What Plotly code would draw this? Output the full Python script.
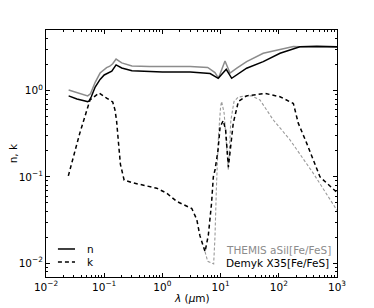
import plotly.graph_objects as go

# ---------------- data (wavelength in micron) ----------------
themis_n_wl = [0.0245, 0.04, 0.047, 0.052, 0.058, 0.07, 0.085, 0.11, 0.125, 0.14, 0.16, 0.2, 0.3,
               0.6, 3.0, 6.0, 8.0, 9.2, 11.9, 14.5, 19, 28, 54, 120, 178, 300, 1000]
themis_n = [1.02, 0.93, 0.89, 0.87, 0.92, 1.25, 1.6, 1.85, 1.92, 2.05, 2.32, 2.1, 1.93,
            1.90, 1.90, 1.86, 1.62, 1.40, 2.21, 1.60, 1.82, 2.17, 2.71, 3.04, 3.25, 3.2, 3.18]

demyk_n_wl = [0.0245, 0.034, 0.047, 0.052, 0.055, 0.06, 0.07, 0.085, 0.10, 0.12, 0.135, 0.16, 0.2,
              0.3, 0.6, 1.0, 3.0, 6.6, 9.1, 12.5, 15.5, 19, 28, 54, 105, 230, 450, 1000]
demyk_n = [0.87, 0.80, 0.76, 0.746, 0.76, 0.85, 1.1, 1.35, 1.52, 1.60, 1.68, 1.99, 1.83,
           1.70, 1.65, 1.64, 1.64, 1.58, 1.39, 1.77, 1.39, 1.52, 1.82, 2.17, 2.71, 3.23, 3.28, 3.23]

demyk_k_wl = [0.0242, 0.038, 0.057, 0.082, 0.11, 0.14, 0.153, 0.163, 0.175, 0.19, 0.22, 0.32, 0.8,
              1.18, 1.76, 3.2, 3.9, 4.4, 5.4, 6.15, 7.0, 7.5, 8.0, 9.0, 9.8, 11.1, 12.2, 13.6,
              16.5, 20.2, 28, 58, 105, 178, 216, 302, 510, 1000]
demyk_k = [0.103, 0.32, 0.78, 0.94, 0.82, 0.74, 0.60, 0.45, 0.26, 0.14, 0.092, 0.085, 0.074,
           0.065, 0.052, 0.043, 0.032, 0.021, 0.0136, 0.021, 0.05, 0.10, 0.12, 0.2, 0.38, 0.45, 0.35, 0.13,
           0.42, 0.75, 0.87, 0.93, 0.85, 0.71, 0.42, 0.245, 0.10, 0.066]

themis_k_wl = [5.4, 6.0, 7.6, 8.0, 8.5, 9.2, 10.0, 10.4, 11.5, 13.6, 15, 17, 20, 27, 34, 47.5,
               80, 155, 392, 1000]
themis_k = [0.0136, 0.0105, 0.0098, 0.02, 0.08, 0.3, 0.65, 0.75, 0.55, 0.12, 0.45, 0.75, 0.84, 0.87,
            0.87, 0.78, 0.46, 0.27, 0.11, 0.041]

x_tick_vals = [0.01, 0.1, 1, 10, 100, 1000]
x_tick_text = ["10<sup>−2</sup>", "10<sup>−1</sup>", "10<sup>0</sup>", "10<sup>1</sup>",
               "10<sup>2</sup>", "10<sup>3</sup>"]
y_tick_vals = [0.01, 0.1, 1]
y_tick_text = ["10<sup>−2</sup>", "10<sup>−1</sup>", "10<sup>0</sup>"]

GRAY = "#8c8c8c"
FONT = "DejaVu Sans"

fig = go.Figure()
fig.add_trace(go.Scatter(x=themis_n_wl, y=themis_n, mode="lines",
                         line=dict(color=GRAY, width=1.5), showlegend=False))
fig.add_trace(go.Scatter(x=themis_k_wl, y=themis_k, mode="lines",
                         line=dict(color="#9a9a9a", width=1.1, dash="3px,2px"), showlegend=False))
fig.add_trace(go.Scatter(x=demyk_n_wl, y=demyk_n, mode="lines",
                         line=dict(color="black", width=1.5), showlegend=False))
fig.add_trace(go.Scatter(x=demyk_k_wl, y=demyk_k, mode="lines",
                         line=dict(color="black", width=1.5, dash="4px,3px"), showlegend=False))

axis_common = dict(showline=True, linecolor="black", linewidth=1, mirror="ticks",
                   ticks="inside", ticklen=4, tickcolor="black", tickwidth=1,
                   showgrid=False, zeroline=False,
                   tickfont=dict(family=FONT, size=10.5, color="black"),
                   minor=dict(ticks="inside", ticklen=2, tickcolor="black", tickwidth=0.8,
                              dtick="D1", showgrid=False))

fig.update_xaxes(type="log", range=[-2, 3], tickmode="array", tickvals=x_tick_vals,
                 ticktext=x_tick_text, **axis_common)
fig.update_yaxes(type="log", range=[-2.16, 0.703], tickmode="array", tickvals=y_tick_vals,
                 ticktext=y_tick_text, **axis_common)

# legend glyphs and texts
fig.add_shape(type="line", xref="paper", yref="paper", x0=0.041, x1=0.0997, y0=0.1134, y1=0.1134,
              line=dict(color="black", width=1.5))
fig.add_shape(type="line", xref="paper", yref="paper", x0=0.041, x1=0.0997, y0=0.0607, y1=0.0607,
              line=dict(color="black", width=1.5, dash="4px,3px"))
ann_font = dict(family=FONT, size=10.5, color="black")
fig.add_annotation(text="n", xref="paper", yref="paper", x=0.135, y=0.1134, xanchor="left",
                   yanchor="middle", showarrow=False, font=ann_font)
fig.add_annotation(text="k", xref="paper", yref="paper", x=0.135, y=0.0607, xanchor="left",
                   yanchor="middle", showarrow=False, font=ann_font)
fig.add_annotation(text="THEMIS aSil[Fe/FeS]", xref="paper", yref="paper", x=0.612, y=0.108,
                   xanchor="left", yanchor="middle", showarrow=False,
                   font=dict(family=FONT, size=10.5, color=GRAY))
fig.add_annotation(text="Demyk X35[Fe/FeS]", xref="paper", yref="paper", x=0.612, y=0.058,
                   xanchor="left", yanchor="middle", showarrow=False, font=ann_font)
# axis titles
fig.add_annotation(text="<i>λ</i> (<i>μ</i>m)", xref="paper", yref="paper", x=0.5, y=-0.085,
                   xanchor="center", yanchor="middle", showarrow=False, font=ann_font)
fig.add_annotation(text="n, k", xref="paper", yref="paper", x=-0.114, y=0.5, textangle=-90,
                   xanchor="center", yanchor="middle", showarrow=False, font=ann_font)

# page body has an 8px margin, so the figure is shrunk/offset to keep the plot area in place
fig.update_layout(width=366, height=300, autosize=False,
                  margin=dict(l=38, r=37, t=22, b=31),
                  paper_bgcolor="white", plot_bgcolor="white", showlegend=False)

fig.write_html("out.html")
